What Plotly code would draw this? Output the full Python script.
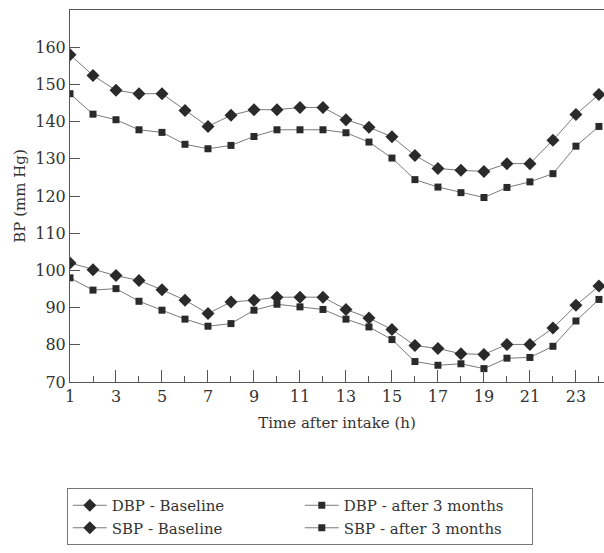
import plotly.graph_objects as go

hours = list(range(1, 25))
sbp_baseline = [158.0, 152.4, 148.4, 147.5, 147.5, 143.0, 138.7, 141.7, 143.2, 143.2, 143.8, 143.8,
                140.5, 138.5, 135.9, 130.9, 127.4, 126.9, 126.6, 128.7, 128.7, 135.0, 141.9, 147.3]
sbp_after = [147.5, 142.0, 140.5, 137.8, 137.1, 133.9, 132.7, 133.6, 136.0, 137.8, 137.8, 137.8,
             137.0, 134.5, 130.2, 124.4, 122.4, 120.9, 119.6, 122.3, 123.8, 126.0, 133.4, 138.7]
dbp_baseline = [102.0, 100.2, 98.6, 97.3, 94.8, 92.0, 88.4, 91.5, 92.0, 92.8, 92.8, 92.8,
                89.5, 87.2, 84.1, 79.8, 79.0, 77.6, 77.4, 80.1, 80.1, 84.5, 90.6, 95.8]
dbp_after = [98.0, 94.7, 95.1, 91.7, 89.3, 86.9, 85.0, 85.7, 89.3, 90.9, 90.2, 89.5,
             86.9, 84.8, 81.4, 75.5, 74.5, 74.9, 73.6, 76.4, 76.6, 79.6, 86.4, 92.2]

x_tickvals = list(range(1, 24, 2))
y_tickvals = list(range(70, 161, 10))

FONT = "DejaVu Serif"
LINE = "#7a7a7a"
MARK = "#2a2a2a"

fig = go.Figure()

def add(name, y, symbol, size):
    fig.add_trace(go.Scatter(
        x=hours, y=y, name=name, mode="lines+markers",
        line=dict(color=LINE, width=1),
        marker=dict(symbol=symbol, size=size, color=MARK),
    ))

add("DBP - Baseline", dbp_baseline, "diamond", 10)
add("DBP - after 3 months", dbp_after, "square", 7)
add("SBP - Baseline", sbp_baseline, "diamond", 10)
add("SBP - after 3 months", sbp_after, "square", 7)

fig.update_layout(
    width=604, height=553,
    margin=dict(l=70, r=0, t=10, b=171),
    paper_bgcolor="white", plot_bgcolor="white",
    font=dict(family=FONT, color="#333333", size=15),
    showlegend=True,
    legend=dict(
        orientation="h", x=-0.006, xanchor="left", y=-0.285, yanchor="top",
        entrywidth=183, entrywidthmode="pixels",
        bordercolor="#777777", borderwidth=1,
        font=dict(family=FONT, size=15, color="#333333"),
        itemwidth=34,
    ),
    xaxis=dict(
        range=[1, 24.22], tickvals=x_tickvals, ticktext=[str(v) for v in x_tickvals],
        ticks="inside", ticklen=12, tickcolor="#555555",
        minor=dict(tick0=1, dtick=1, ticks="inside", ticklen=6, tickcolor="#555555"),
        showline=True, linecolor="#555555", linewidth=1, mirror=True,
        showgrid=False, zeroline=False,
        tickfont=dict(family=FONT, size=16, color="#333333"),
        title=dict(text="Time after intake (h)", font=dict(family=FONT, size=15, color="#333333"), standoff=12),
    ),
    yaxis=dict(
        range=[70, 170], tickvals=y_tickvals, ticktext=[str(v) for v in y_tickvals],
        ticks="inside", ticklen=10, tickcolor="#555555",
        showline=True, linecolor="#555555", linewidth=1,
        showgrid=False, zeroline=False,
        tickfont=dict(family=FONT, size=16, color="#333333"),
        title=dict(text="BP (mm Hg)", font=dict(family=FONT, size=15, color="#333333"), standoff=6),
    ),
)

fig.write_html("out.html", config={"displayModeBar": False},
               post_script="document.body.style.margin='0';document.body.style.padding='0';")
